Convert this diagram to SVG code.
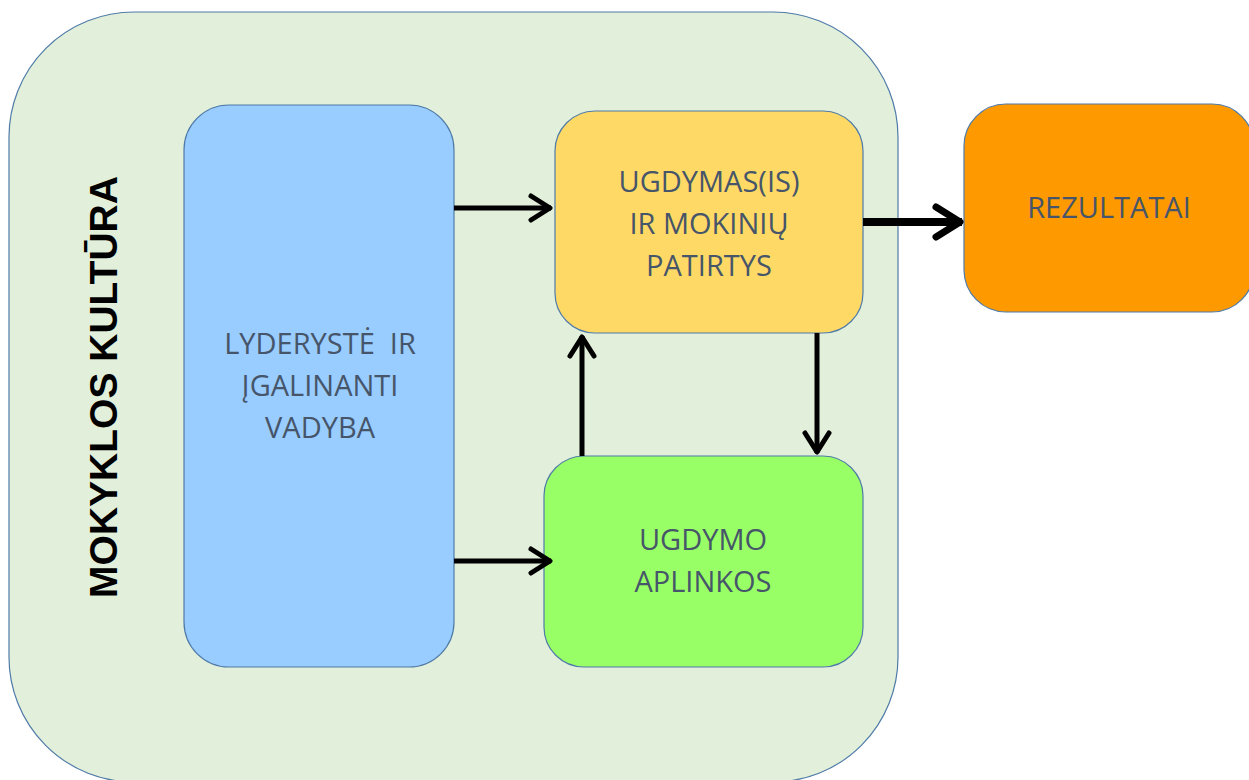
<svg xmlns="http://www.w3.org/2000/svg" width="1249" height="780" viewBox="0 0 1249 780">
<style>
.box{stroke:#4f7ba8;stroke-width:1.2}
.lbl{font-family:"Open Sans","Liberation Sans",sans-serif;font-size:29px;fill:#465569;text-anchor:middle;white-space:pre}
.title{font-family:"Liberation Sans",Arial,sans-serif;font-weight:bold;font-size:39px;fill:#000;text-anchor:middle}
.con{stroke:#000;stroke-width:5;fill:none}
.con-thick{stroke:#000;stroke-width:8;fill:none}
</style>
<defs>
<marker id="ah" markerUnits="userSpaceOnUse" viewBox="-30 -20 40 40" refX="0" refY="0" markerWidth="40" markerHeight="40" orient="auto" overflow="visible">
<path d="M-20,-12 L-1,0 L-20,12" fill="none" stroke="#000" stroke-width="5" stroke-linecap="round" stroke-linejoin="round"/>
</marker>
<marker id="ahb" markerUnits="userSpaceOnUse" viewBox="-40 -25 50 50" refX="0" refY="0" markerWidth="50" markerHeight="50" orient="auto" overflow="visible">
<path d="M-26,-15 L-2,0 L-26,15" fill="none" stroke="#000" stroke-width="7" stroke-linecap="round" stroke-linejoin="round"/>
</marker>
</defs>
<g id="kultura">
<rect class="box" x="9" y="12" width="889" height="770" rx="125" ry="125" fill="#e2efda"/>
<text class="title" transform="translate(117,387) rotate(-90)">MOKYKLOS KULTŪRA</text>
</g>
<g id="lyderyste">
<rect class="box" x="184" y="105" width="270" height="562" rx="45" ry="45" fill="#99ccff"/>
<text class="lbl" x="320" y="354" xml:space="preserve">LYDERYSTĖ  IR</text>
<text class="lbl" x="320" y="396">ĮGALINANTI</text>
<text class="lbl" x="320" y="438">VADYBA</text>
</g>
<g id="ugdymas">
<rect class="box" x="555" y="111" width="308" height="222" rx="40" ry="40" fill="#ffd966"/>
<text class="lbl" x="709" y="192">UGDYMAS(IS)</text>
<text class="lbl" x="709" y="234">IR MOKINIŲ</text>
<text class="lbl" x="709" y="276">PATIRTYS</text>
</g>
<g id="aplinkos">
<rect class="box" x="544" y="456" width="319" height="211" rx="40" ry="40" fill="#99ff66"/>
<text class="lbl" x="703" y="550">UGDYMO</text>
<text class="lbl" x="703" y="592">APLINKOS</text>
</g>
<g id="rezultatai">
<rect class="box" x="964" y="104" width="290" height="208" rx="42" ry="42" fill="#ff9900"/>
<text class="lbl" x="1109" y="218">REZULTATAI</text>
</g>
<g id="connectors">
<path class="con" d="M454,208 L551,208" marker-end="url(#ah)"/>
<path class="con" d="M454,561 L551,561" marker-end="url(#ah)"/>
<path class="con" d="M582,456 L582,336" marker-end="url(#ah)"/>
<path class="con" d="M817,333 L817,453" marker-end="url(#ah)"/>
<path class="con-thick" d="M863,222 L962,222" marker-end="url(#ahb)"/>
</g>
</svg>
